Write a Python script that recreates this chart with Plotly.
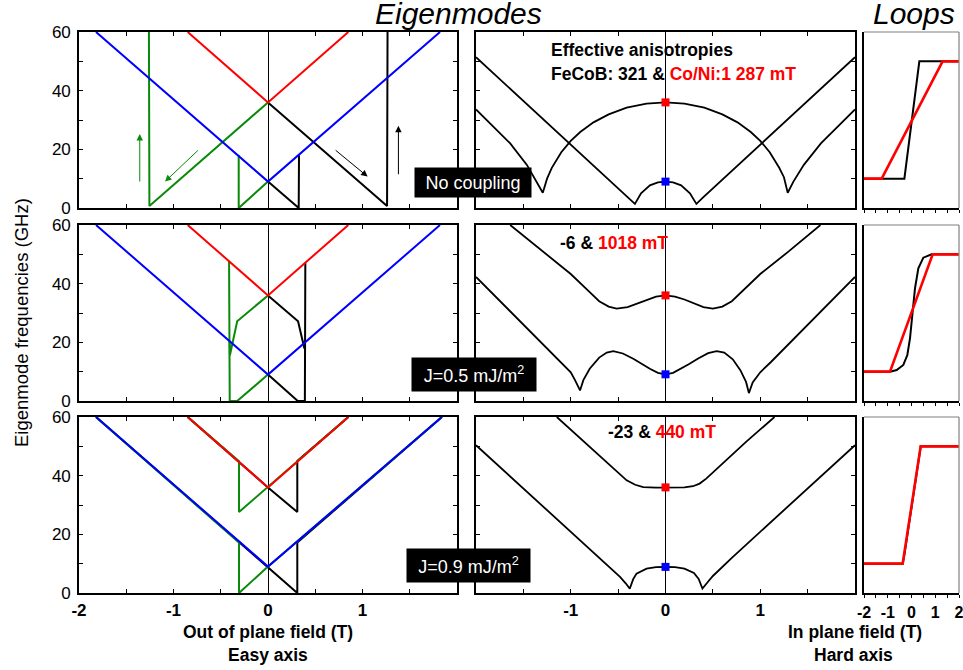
import plotly.graph_objects as go

W, H = 963, 670

# ---------------- data ----------------
# Easy axis eigenmodes (field in T, frequency in GHz)
# Row 1: no coupling
e1_blue_x = [-1.82, 0.0, 1.82]
e1_blue_y = [60, 9, 60]
e1_red_x = [-0.85, 0.0, 0.85]
e1_red_y = [60, 36, 60]
e1_green_x = [-1.26, -1.255, 0.0, None, -0.31, -0.31, 0.0]
e1_green_y = [60, 0.7, 36, None, 18, 0, 9]
e1_black_x = [0.0, 1.26, 1.265, None, 0.0, 0.325, 0.328]
e1_black_y = [36, 0.7, 60, None, 9, 0, 18]

# Row 2: J = 0.5 mJ/m2
e2_blue_x = [-1.82, 0.0, 1.82]
e2_blue_y = [60, 9, 60]
e2_red_x = [-0.85, 0.0, 0.85]
e2_red_y = [60, 36, 60]
e2_green_x = [-0.412, -0.405, -0.326, 0.0, None, -0.406, -0.403, -0.326, 0.0]
e2_green_y = [47.7, 0, 0, 9, None, 20.5, 15.6, 27.2, 36]
e2_black_x = [0.0, 0.318, 0.385, 0.39, None, 0.0, 0.315, 0.39, 0.395]
e2_black_y = [36, 27.2, 17.9, 20.5, None, 9, 0, 0, 47.2]

# Row 3: J = 0.9 mJ/m2
e3_blue_x = [-1.82, 0.0, 1.84]
e3_blue_y = [60, 9, 60]
e3_red_x = [-0.85, 0.0, 0.85]
e3_red_y = [60, 36, 60]
e3_black_x = [-1.82, 0.0, 0.31, 0.31, 1.84, None, -0.85, 0.0, 0.31, 0.31, 0.85]
e3_black_y = [60, 9, 0, 17.2, 60, None, 60, 36, 27.6, 45, 60]
e3_green_x = [1.84, 0.0, -0.307, -0.307, -1.82, None, 0.85, 0.0, -0.307, -0.307, -0.85]
e3_green_y = [60, 9, 0, 17.2, 60, None, 60, 36, 27.6, 44.9, 60]

# Arrows in the first panel (tail -> head)
arrow_green_up = dict(x0=-1.357, y0=8.5, x1=-1.357, y1=25.2)
arrow_green_diag = dict(x0=-0.726, y0=20.1, x1=-1.09, y1=9.0)
arrow_black_diag = dict(x0=0.70, y0=20.1, x1=1.054, y1=10.7)
arrow_black_up = dict(x0=1.38, y0=11.0, x1=1.38, y1=28.0)

# Hard axis eigenmodes
h1_a_x = [-2.0, -1.815, -1.639, -1.463, -1.358, -1.295, -1.25, -1.2, -1.1, -1.0, -0.9, -0.76, -0.6,
          -0.41, -0.2, 0.0, 0.2, 0.41, 0.6, 0.76, 0.9, 1.0, 1.1, 1.2, 1.25, 1.29, 1.35, 1.46, 1.64,
          1.815, 2.0]
h1_a_y = [33.6, 27.7, 22.0, 14.7, 9.0, 5.2, 10.0, 13.7, 19.0, 22.9, 25.9, 29.2, 31.9,
          34.2, 35.6, 36.0, 35.6, 34.2, 31.9, 29.2, 25.9, 22.9, 19.0, 13.7, 10.5, 5.2, 9.0, 14.7, 22.0,
          27.7, 33.6]
h1_b_x = [-2.0, -1.5, -1.0, -0.6, -0.4, -0.323, -0.258, -0.165, -0.08, 0.0, 0.08, 0.165, 0.258,
          0.326, 0.4, 0.6, 1.0, 1.5, 2.0]
h1_b_y = [51.4, 36.5, 21.6, 9.7, 3.7, 1.4, 5.0, 7.7, 8.7, 9.0, 8.7, 7.7, 5.0,
          1.4, 3.7, 9.7, 21.6, 36.5, 51.4]

h2_c_x = [-1.639, -1.3, -1.0, -0.797, -0.7, -0.6, -0.516, -0.4, -0.3, -0.2, -0.1, 0.0,
          0.1, 0.2, 0.3, 0.4, 0.5, 0.6, 0.7, 0.797, 1.0, 1.3, 1.635]
h2_c_y = [60, 51.0, 43.3, 37.0, 34.0, 32.2, 31.5, 32.0, 33.2, 34.6, 35.6, 36.0,
          35.6, 34.6, 33.2, 32.0, 31.5, 32.2, 34.0, 37.0, 43.3, 51.0, 60]
h2_d_x = [-2.0, -1.6, -1.3, -1.113, -1.0, -0.955, -0.902, -0.867, -0.8, -0.7, -0.62, -0.551,
          -0.45, -0.34, -0.25, -0.165, -0.08, 0.0, 0.08, 0.165, 0.25, 0.34, 0.45, 0.54, 0.62,
          0.71, 0.79, 0.85, 0.88, 0.92, 1.0, 1.113, 1.3, 1.6, 2.0]
h2_d_y = [42.3, 29.2, 19.4, 13.3, 9.8, 7.1, 3.6, 7.1, 11.0, 14.8, 16.5, 17.0,
          16.2, 14.4, 12.6, 11.0, 9.6, 9.1, 9.6, 11.0, 12.6, 14.4, 16.3, 17.0, 16.5,
          14.2, 10.5, 6.5, 2.7, 6.3, 9.8, 13.3, 19.4, 29.2, 42.3]

h3_e_x = [-1.147, -0.8, -0.55, -0.41, -0.32, -0.235, -0.1, 0.0, 0.1, 0.2, 0.29, 0.36, 0.43,
          0.6, 0.85, 1.15]
h3_e_y = [60, 49.8, 42.5, 38.4, 36.9, 36.1, 35.9, 35.9, 35.9, 36.0, 36.4, 37.3, 39.0,
          44.2, 51.5, 60]
h3_f_x = [-2.0, -1.5, -1.0, -0.7, -0.48, -0.42, -0.377, -0.34, -0.306, -0.2, -0.1, 0.0,
          0.1, 0.2, 0.3, 0.35, 0.39, 0.44, 0.5, 0.7, 1.0, 1.5, 2.0]
h3_f_y = [50.4, 35.7, 20.9, 12.0, 5.5, 3.3, 1.5, 4.8, 6.6, 8.3, 8.8, 8.9,
          8.8, 8.3, 6.8, 4.8, 1.5, 3.5, 5.8, 12.0, 20.9, 35.7, 50.4]

# Zero-field modes (squares)
zero_red_y = [36.0, 36.0, 36.0]
zero_blue_y = [9.0, 9.1, 8.9]

# Loops (in plane field T, normalised magnetisation)
l1_black_x = [-2, -0.30, 0.33, 2]
l1_black_m = [-1, -1, 1, 1]
l1_red_x = [-2, -1.255, 1.31, 2]
l1_red_m = [-1, -1, 1, 1]
l2_black_x = [-2, -0.905, -0.625, -0.344, -0.175, -0.063, 0.035, 0.147, 0.288, 0.498, 0.849, 2]
l2_black_m = [-1, -1.0, -0.972, -0.886, -0.716, -0.432, -0.034, 0.42, 0.761, 0.943, 1.0, 1.0]
l2_red_x = [-2, -0.905, 0.891, 2]
l2_red_m = [-1, -1, 1, 1]
l3_black_x = [-2, -0.37, -0.3, -0.15, 0.0, 0.15, 0.3, 0.39, 2]
l3_black_m = [-1, -1, -0.85, -0.45, 0.0, 0.42, 0.82, 1, 1]
l3_red_x = [-2, -0.372, 0.386, 2]
l3_red_m = [-1, -1, 1, 1]

# Texts
coupling_labels = ["No coupling", "J=0.5 mJ/m<sup>2</sup>", "J=0.9 mJ/m<sup>2</sup>"]
anis_black = ["FeCoB: 321 & ", "-6 & ", "-23 & "]
anis_red = ["Co/Ni:1 287 mT", "1018 mT", "440 mT"]

easy_ticks = [-2, -1.5, -1, -0.5, 0, 0.5, 1, 1.5, 2]
easy_ticktext = ["-2", "", "-1", "", "0", "", "1", "", ""]
hard_ticktext = ["", "", "-1", "", "0", "", "1", "", ""]
loop_ticktext = ["-2", "", "-1", "", "0", "", "1", "", "2"]
freq_ticks = [0, 10, 20, 30, 40, 50, 60]
freq_ticktext = ["0", "", "20", "", "40", "", "60"]

# ---------------- figure ----------------
GREEN = "#0a8a0a"
RED = "#ff0000"
BLUE = "#0000ff"
FONT = "Liberation Sans, Arial, sans-serif"

cols = [(79, 457), (476, 855), (864, 959)]
rows = [(32, 208), (225, 401), (417, 593)]


def fx(p):
    return p / W


def fy(p):
    return 1 - p / H


fig = go.Figure()


def pid(r, c):
    return r * 3 + c + 1


def add_line(n, x, y, color, width=2.0):
    fig.add_trace(go.Scatter(x=x, y=y, mode="lines", line=dict(color=color, width=width),
                             xaxis=f"x{n}", yaxis=f"y{n}", showlegend=False, hoverinfo="skip"))


easy = [
    (e1_black_x, e1_black_y, e1_green_x, e1_green_y, e1_red_x, e1_red_y, e1_blue_x, e1_blue_y),
    (e2_black_x, e2_black_y, e2_green_x, e2_green_y, e2_red_x, e2_red_y, e2_blue_x, e2_blue_y),
    (e3_black_x, e3_black_y, e3_green_x, e3_green_y, e3_red_x, e3_red_y, e3_blue_x, e3_blue_y),
]
for r, d in enumerate(easy):
    n = pid(r, 0)
    add_line(n, d[0], d[1], "black")
    add_line(n, d[2], d[3], GREEN)
    add_line(n, d[6], d[7], BLUE)
    add_line(n, d[4], d[5], RED)

hard = [(h1_a_x, h1_a_y, h1_b_x, h1_b_y), (h2_c_x, h2_c_y, h2_d_x, h2_d_y),
        (h3_e_x, h3_e_y, h3_f_x, h3_f_y)]
for r, d in enumerate(hard):
    n = pid(r, 1)
    add_line(n, d[0], d[1], "black", 1.8)
    add_line(n, d[2], d[3], "black", 1.8)
    fig.add_trace(go.Scatter(x=[0, 0], y=[zero_red_y[r], zero_blue_y[r]], mode="markers",
                             marker=dict(symbol="square", size=8, color=[RED, BLUE]),
                             xaxis=f"x{n}", yaxis=f"y{n}", showlegend=False, hoverinfo="skip"))

loops = [(l1_black_x, l1_black_m, l1_red_x, l1_red_m), (l2_black_x, l2_black_m, l2_red_x, l2_red_m),
         (l3_black_x, l3_black_m, l3_red_x, l3_red_m)]
for r, d in enumerate(loops):
    n = pid(r, 2)
    add_line(n, d[0], d[1], "black", 2.0)
    add_line(n, d[2], d[3], RED, 2.6)

layout = {}
shapes = []
for r in range(3):
    for c in range(3):
        n = pid(r, c)
        xd = [fx(cols[c][0]), fx(cols[c][1])]
        yd = [fy(rows[r][1]), fy(rows[r][0])]
        bottom = (r == 2)
        if c < 2:
            tt = easy_ticktext if c == 0 else hard_ticktext
            layout[f"xaxis{n}"] = dict(
                domain=xd, range=[-2, 2], anchor=f"y{n}", showline=True, linecolor="black",
                linewidth=1.6, mirror="ticks", ticks="inside", ticklen=4, tickwidth=1.2,
                tickcolor="black", tickvals=easy_ticks, ticktext=tt if bottom else [""] * 9,
                showticklabels=bottom, tickfont=dict(family=FONT, size=17, color="black", weight="bold"),
                ticklabelstandoff=1, automargin=False,
                showgrid=False, zeroline=True, zerolinecolor="black", zerolinewidth=1.3, fixedrange=True)
            layout[f"yaxis{n}"] = dict(
                domain=yd, range=[0, 60], anchor=f"x{n}", showline=True, linecolor="black",
                linewidth=1.6, mirror="ticks", ticks="inside", ticklen=4, tickwidth=1.2,
                tickcolor="black", tickvals=freq_ticks, ticktext=freq_ticktext,
                showticklabels=(c == 0), tickfont=dict(family=FONT, size=17, color="black"),
                ticklabelstandoff=3, automargin=False,
                showgrid=False, zeroline=False, fixedrange=True)
            # overlay axes give the outward half of crossing ticks
            layout[f"xaxis{n + 9}"] = dict(
                overlaying=f"x{n}", range=[-2, 2], anchor=f"y{n}", showline=False, mirror="ticks",
                ticks="outside", ticklen=4, tickwidth=1.2, tickcolor="black", tickvals=easy_ticks,
                showticklabels=False, showgrid=False, zeroline=False, fixedrange=True,
                automargin=False)
            layout[f"yaxis{n + 9}"] = dict(
                overlaying=f"y{n}", range=[0, 60], anchor=f"x{n}", showline=False, mirror="ticks",
                ticks="outside", ticklen=4, tickwidth=1.2, tickcolor="black", tickvals=freq_ticks,
                showticklabels=False, showgrid=False, zeroline=False, fixedrange=True,
                automargin=False)
        else:
            layout[f"xaxis{n}"] = dict(
                domain=xd, range=[-2, 2], anchor=f"y{n}", showline=True, linecolor="black",
                linewidth=1.6, ticks="outside", ticklen=3, tickwidth=1, tickcolor="black",
                tickvals=easy_ticks, ticktext=loop_ticktext, showticklabels=bottom,
                tickfont=dict(family=FONT, size=16, color="black", weight="bold"),
                ticklabelstandoff=1, ticklabeloverflow="allow", automargin=False,
                showgrid=False, zeroline=False, fixedrange=True)
            layout[f"yaxis{n}"] = dict(
                domain=yd, range=[-1.5, 1.5], anchor=f"x{n}", showline=True, linecolor="black",
                linewidth=1.6, ticks="", showticklabels=False, showgrid=False, zeroline=False,
                fixedrange=True, automargin=False)
            shapes.append(dict(type="line", xref=f"x{n} domain", yref=f"y{n} domain",
                               x0=0, x1=1, y0=1, y1=1, line=dict(color="#808080", width=1.2)))
            shapes.append(dict(type="line", xref=f"x{n} domain", yref=f"y{n} domain",
                               x0=1, x1=1, y0=0, y1=1, line=dict(color="#808080", width=1.2)))

annotations = []


def ann(text, x, y, size, bold=False, italic=False, color="black", xanchor="center", **kw):
    annotations.append(dict(text=text, x=fx(x), y=fy(y), xref="paper", yref="paper",
                            xanchor=xanchor, yanchor="middle", showarrow=False,
                            font=dict(family=FONT, size=size, color=color,
                                      weight="bold" if bold else "normal",
                                      style="italic" if italic else "normal"), **kw))


ann("Eigenmodes", 458, 14, 30, italic=True)
ann("Loops", 914, 14, 30, italic=True)
ann("Eigenmode frequencies (GHz)", 21, 323, 18.5, textangle=-90)
ann("Out of plane field (T)", 268, 632, 17.5, bold=True)
ann("Easy axis", 268, 655, 17.5, bold=True)
ann("In plane field (T)", 855, 632, 17.5, bold=True)
ann("Hard axis", 853, 655, 17.5, bold=True)

ann("Effective anisotropies", 549, 50, 17.5, bold=True, xanchor="left")
ann(anis_black[0] + f"<span style='color:{RED}'>" + anis_red[0] + "</span>", 549, 74, 17.5,
    bold=True, xanchor="left")
ann(anis_black[1] + f"<span style='color:{RED}'>" + anis_red[1] + "</span>", 614, 243, 17.5, bold=True)
ann(anis_black[2] + f"<span style='color:{RED}'>" + anis_red[2] + "</span>", 662, 432, 17.5, bold=True)

boxes = [(473, 182, 116, 29), (474, 374, 124, 33), (468, 565, 123, 33)]
for lab, (bx, by, bw, bh) in zip(coupling_labels, boxes):
    ann(lab, bx, by, 18, color="white", bgcolor="black", width=bw, height=bh, borderpad=0)

for a, col in [(arrow_green_up, GREEN), (arrow_green_diag, GREEN), (arrow_black_diag, "black"),
               (arrow_black_up, "black")]:
    annotations.append(dict(x=a["x1"], y=a["y1"], ax=a["x0"], ay=a["y0"], xref="x1", yref="y1",
                            axref="x1", ayref="y1", showarrow=True, arrowhead=2, arrowsize=1.3,
                            arrowwidth=1, arrowcolor=col, text=""))

fig.update_layout(**layout)
fig.update_layout(template="none", width=W, height=H, margin=dict(l=0, r=0, t=0, b=0, pad=0),
                  plot_bgcolor="white", paper_bgcolor="white", shapes=shapes,
                  annotations=annotations, font=dict(family=FONT, color="black"))

fig.write_html("out.html", config={"displayModeBar": False},
               post_script="document.body.style.margin='0px';")
